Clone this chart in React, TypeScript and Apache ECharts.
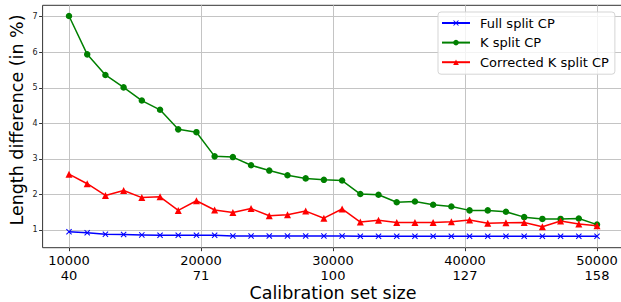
import React, { useEffect, useRef } from "react";
import * as echarts from "echarts";

const calibSizes = [10000, 11379, 12759, 14138, 15517, 16897, 18276, 19655, 21034, 22414, 23793, 25172, 26552, 27931, 29310, 30690, 32069, 33448, 34828, 36207, 37586, 38966, 40345, 41724, 43103, 44483, 45862, 47241, 48621, 50000];
const fullSplit = [0.95, 0.92, 0.88, 0.87, 0.86, 0.85, 0.85, 0.85, 0.85, 0.83, 0.83, 0.83, 0.83, 0.83, 0.83, 0.83, 0.82, 0.82, 0.82, 0.82, 0.82, 0.82, 0.82, 0.82, 0.82, 0.82, 0.82, 0.82, 0.82, 0.82];
const kSplit = [7.02, 5.94, 5.36, 5.01, 4.64, 4.38, 3.83, 3.75, 3.07, 3.05, 2.82, 2.67, 2.54, 2.45, 2.41, 2.39, 2.01, 1.99, 1.78, 1.80, 1.71, 1.66, 1.55, 1.55, 1.51, 1.36, 1.31, 1.31, 1.32, 1.15];
const correctedK = [2.57, 2.30, 1.97, 2.11, 1.91, 1.93, 1.55, 1.82, 1.56, 1.49, 1.60, 1.40, 1.43, 1.53, 1.33, 1.59, 1.22, 1.27, 1.21, 1.21, 1.21, 1.23, 1.28, 1.19, 1.20, 1.21, 1.09, 1.25, 1.17, 1.12];

const xTicks = [10000, 20000, 30000, 40000, 50000];
const xSecondLabels = ["40", "71", "100", "127", "158"];
const yTicks = [1, 2, 3, 4, 5, 6, 7];

const seriesNames = ["Full split CP", "K split CP", "Corrected K split CP"];
const yTitle = "Length difference (in %)";
const xTitle = "Calibration set size";

const FONT = "DejaVu Sans";
const CROSS = "path://M0,1.2L1.2,0L5,3.8L8.8,0L10,1.2L6.2,5L10,8.8L8.8,10L5,6.2L1.2,10L0,8.8L3.8,5Z";

export default function App() {
  const ref = useRef<HTMLDivElement>(null);
  useEffect(() => {
    if (!ref.current) return;
    const chart = echarts.init(ref.current, undefined, { renderer: "svg" });
    const toPairs = (ys: number[]) => ys.map((y, i) => [calibSizes[i], y]);
    chart.setOption({
      animation: false,
      textStyle: { fontFamily: FONT },
      grid: {
        left: 42.6,
        top: 5.3,
        width: 580.8,
        height: 242.4,
        show: true,
        borderColor: "#333",
        borderWidth: 1,
        containLabel: false,
        outerBoundsMode: "none",
      },
      graphic: [
        {
          type: "text",
          x: 17,
          y: 120,
          rotation: Math.PI / 2,
          style: {
            text: yTitle,
            fontFamily: FONT,
            fontSize: 17.5,
            lineHeight: 18,
            fill: "#000",
            align: "center",
            verticalAlign: "middle",
          },
        },
        {
          type: "text",
          x: 333,
          y: 292.5,
          style: {
            text: xTitle,
            fontFamily: FONT,
            fontSize: 17.5,
            lineHeight: 18,
            fill: "#000",
            align: "center",
            verticalAlign: "middle",
          },
        },
      ],
      legend: {
        orient: "vertical",
        left: 438,
        top: 12,
        padding: [4, 6, 5, 3],
        itemWidth: 28,
        itemHeight: 7,
        itemGap: 5.6,
        backgroundColor: "rgba(255,255,255,0.8)",
        borderColor: "#d5d5d5",
        borderWidth: 1,
        borderRadius: 3,
        textStyle: { fontFamily: FONT, fontSize: 13, lineHeight: 14, color: "#000", padding: [0, 0, 0, 5] },
        data: seriesNames,
      },
      xAxis: {
        type: "value",
        min: 8000,
        max: 52000,
        axisLine: { show: false },
        axisTick: { show: true, inside: false, length: 3.5, customValues: xTicks, lineStyle: { color: "#333" } },
        axisLabel: {
          customValues: xTicks,
          margin: 5,
          fontFamily: FONT,
          fontSize: 13,
          lineHeight: 15,
          color: "#000",
          formatter: (v: number) => {
            const idx = xTicks.indexOf(v);
            return idx >= 0 ? `${v}\n${xSecondLabels[idx]}` : "";
          },
        },
        splitLine: { show: true, lineStyle: { color: "#c4c4c4", width: 1 } },
      },
      yAxis: {
        type: "value",
        min: 0.5,
        max: 7.32,
        axisLine: { show: false },
        axisTick: { show: true, inside: false, length: 3.5, customValues: yTicks, lineStyle: { color: "#333" } },
        axisLabel: { customValues: yTicks, margin: 5, fontFamily: FONT, fontSize: 8, color: "#222" },
        splitLine: { show: true, lineStyle: { color: "#c4c4c4", width: 1 } },
      },
      series: [
        {
          name: seriesNames[0],
          type: "line",
          data: toPairs(fullSplit),
          symbol: CROSS,
          symbolSize: 6,
          lineStyle: { color: "#0000ff", width: 1.5 },
          itemStyle: { color: "#0000ff" },
          z: 2,
        },
        {
          name: seriesNames[1],
          type: "line",
          data: toPairs(kSplit),
          symbol: "circle",
          symbolSize: 6.5,
          lineStyle: { color: "#008000", width: 1.5 },
          itemStyle: { color: "#008000" },
          z: 3,
        },
        {
          name: seriesNames[2],
          type: "line",
          data: toPairs(correctedK),
          symbol: "triangle",
          symbolSize: 7,
          lineStyle: { color: "#ff0000", width: 1.5 },
          itemStyle: { color: "#ff0000" },
          z: 4,
        },
      ],
    });
    return () => chart.dispose();
  }, []);
  return <div ref={ref} style={{ position: "absolute", left: 0, top: 0, width: 621, height: 302 }} />;
}
